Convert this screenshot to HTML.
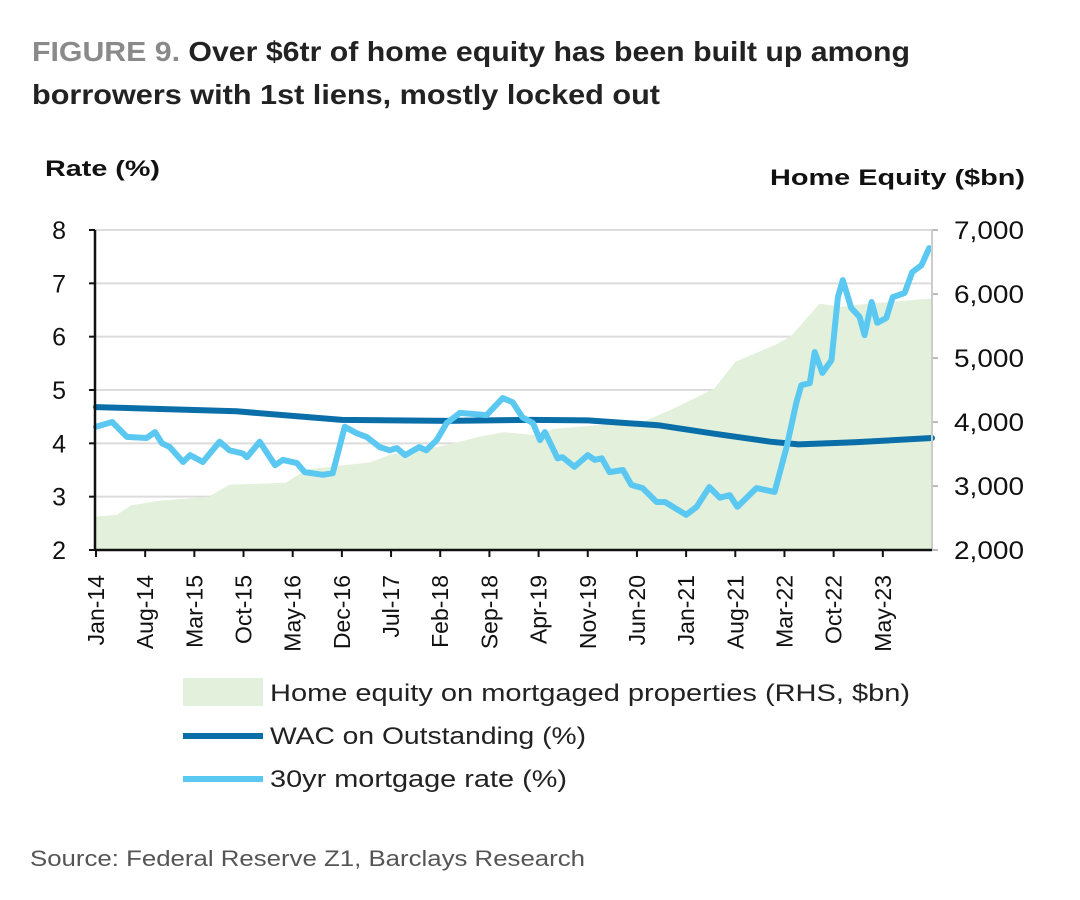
<!DOCTYPE html>
<html><head><meta charset="utf-8">
<style>
body{margin:0;background:#fff;font-family:"Liberation Sans",sans-serif;}
#wrap{position:relative;width:1080px;height:900px;overflow:hidden;}
</style></head>
<body>
<div id="wrap">
<svg id="chart" width="1080" height="900" xmlns="http://www.w3.org/2000/svg">
  <text x="32" y="61" font-size="28" font-weight="bold" fill="#222" textLength="878" lengthAdjust="spacingAndGlyphs"><tspan fill="#8a8a8a">FIGURE 9.</tspan> Over $6tr of home equity has been built up among</text>
  <text x="32" y="104" font-size="28" font-weight="bold" fill="#222" textLength="628" lengthAdjust="spacingAndGlyphs">borrowers with 1st liens, mostly locked out</text>
  <text x="45" y="176" font-size="22" font-weight="bold" fill="#111" textLength="115" lengthAdjust="spacingAndGlyphs">Rate (%)</text>
  <text x="770" y="185" font-size="22" font-weight="bold" fill="#111" textLength="255" lengthAdjust="spacingAndGlyphs">Home Equity ($bn)</text>
  <g id="grid"></g>
  <g id="area"></g>
  <g id="lines"></g>
  <g id="axes"></g>
  <rect x="183" y="678" width="80" height="28" fill="#e3f0dc"/>
  <text x="270" y="701" font-size="24" fill="#222" textLength="640" lengthAdjust="spacingAndGlyphs">Home equity on mortgaged properties (RHS, $bn)</text>
  <line x1="183" y1="736" x2="263" y2="736" stroke="#0a6ea8" stroke-width="6"/>
  <text x="270" y="744" font-size="24" fill="#222" textLength="316" lengthAdjust="spacingAndGlyphs">WAC on Outstanding (%)</text>
  <line x1="183" y1="779" x2="263" y2="779" stroke="#5bc8f2" stroke-width="6"/>
  <text x="270" y="787" font-size="24" fill="#222" textLength="297" lengthAdjust="spacingAndGlyphs">30yr mortgage rate (%)</text>
  <text x="30" y="866" font-size="22" fill="#555" textLength="555" lengthAdjust="spacingAndGlyphs">Source: Federal Reserve Z1, Barclays Research</text>
</svg>
</div>
<script>
const xTickLabels=["Jan-14","Aug-14","Mar-15","Oct-15","May-16","Dec-16","Jul-17","Feb-18","Sep-18","Apr-19","Nov-19","Jun-20","Jan-21","Aug-21","Mar-22","Oct-22","May-23"];
const leftTicks=[2,3,4,5,6,7,8];
const rightTicks=[2000,3000,4000,5000,6000,7000];
const rightTickLabels=["2,000","3,000","4,000","5,000","6,000","7,000"];
const equityMonths=[0,3,5,9,16,19,27,30,39,42,49,55,58,60,63,65,78,82,88,91,97,99,103,106,110,119];
const equityValues=[2520,2550,2700,2770,2830,3020,3050,3260,3370,3490,3620,3780,3840,3820,3790,3890,4010,4200,4520,4940,5220,5350,5850,5800,5850,5930];
const wacMonths=[0,20,35,50,62,70,80,88,96,100,108,119];
const wacValues=[4.68,4.6,4.44,4.42,4.44,4.43,4.34,4.18,4.03,3.98,4.02,4.1];
const rateMonths=[0,2.3,4.4,7.2,8.4,9.4,10.5,12.4,13.4,15.2,17.6,19,20.9,21.5,23.3,25.5,26.6,28.6,29.7,32.3,33.7,35.4,37.1,38.5,40.4,41.8,42.8,44,46,47,48.5,49.9,51.8,55.6,57.9,59.3,60.7,62.2,63.2,63.9,65.7,66.4,68.1,70,71,72,73.1,75,76.2,77.8,79.8,81,84,85.5,87.3,88.8,90.2,91.3,94,96.6,98.3,99.7,100.4,101.6,102.3,103.4,104.7,105.6,106.3,107.5,108.7,109.4,110.4,111.2,112.5,113.4,115.1,116.2,117.5,118.6];
const rateValues=[4.31,4.4,4.12,4.1,4.21,4.0,3.93,3.65,3.78,3.65,4.03,3.87,3.81,3.74,4.03,3.59,3.69,3.63,3.46,3.41,3.44,4.31,4.19,4.12,3.93,3.87,3.91,3.78,3.93,3.87,4.06,4.38,4.57,4.53,4.85,4.77,4.49,4.38,4.06,4.21,3.72,3.74,3.56,3.78,3.69,3.72,3.46,3.5,3.22,3.16,2.9,2.9,2.66,2.81,3.18,2.98,3.03,2.81,3.16,3.09,3.93,4.77,5.09,5.13,5.71,5.32,5.56,6.74,7.06,6.54,6.37,6.03,6.65,6.26,6.35,6.74,6.82,7.21,7.34,7.66];

const X0=95,X1=932,Y0=550,Y1=230,NM=119;
const xs=m=>X0+1+m*(X1-X0-1)/NM;
const yl=v=>Y0-(v-2)*(Y0-Y1)/6;
const yr=v=>Y0-(v-2000)*(Y0-Y1)/5000;
const NS="http://www.w3.org/2000/svg";
function mk(tag,attrs,parent){const e=document.createElementNS(NS,tag);for(const k in attrs)e.setAttribute(k,attrs[k]);parent.appendChild(e);return e;}
const grid=document.getElementById('grid'),area=document.getElementById('area'),lines=document.getElementById('lines'),axes=document.getElementById('axes');

leftTicks.forEach(v=>{
  if(v>2){const g=mk('line',{x1:X0,x2:X1,y1:yl(v),y2:yl(v),stroke:'#dcdcdc','stroke-width':2},grid);
  
  }
  const t=mk('text',{x:66,y:yl(v)+9,'font-size':25,fill:'#111','text-anchor':'end'},axes);t.textContent=v;
  
  
  mk('line',{x1:X0-6,x2:X0,y1:yl(v),y2:yl(v),stroke:'#111','stroke-width':2},axes);
});
rightTicks.forEach((v,i)=>{
  const t=mk('text',{x:954,y:yr(v)+9,'font-size':25,fill:'#111',textLength:70,lengthAdjust:'spacingAndGlyphs'},axes);t.textContent=rightTickLabels[i];
  
  
  mk('line',{x1:X1,x2:X1+6,y1:yr(v),y2:yr(v),stroke:'#bbb','stroke-width':2},axes);
});

let d='M'+xs(equityMonths[0])+','+Y0;
equityMonths.forEach((m,i)=>{d+=' L'+xs(m)+','+yr(equityValues[i]);});
d+=' L'+xs(equityMonths[equityMonths.length-1])+','+Y0+' Z';
const ar=mk('path',{d:d,fill:'#e3f0dc'},area);



function line(ms,vs,col,name){
  const p=ms.map((m,i)=>(i?'L':'M')+xs(m).toFixed(1)+','+yl(vs[i]).toFixed(1)).join(' ');
  const e=mk('path',{d:p,fill:'none',stroke:col,'stroke-width':6,'stroke-linejoin':'round','stroke-linecap':'round'},lines);
  
  
}
line(wacMonths,wacValues,'#0a6ea8','wac-line');
line(rateMonths,rateValues,'#5bc8f2','mortgage-rate-line');

const la=mk('line',{x1:X0,x2:X0,y1:Y1,y2:Y0+1,stroke:'#111','stroke-width':2.5},axes);


const ra=mk('line',{x1:X1,x2:X1,y1:Y1,y2:Y0,stroke:'#ccc','stroke-width':2},axes);


const xa=mk('line',{x1:X0,x2:X1,y1:Y0,y2:Y0,stroke:'#111','stroke-width':2.5},axes);


xTickLabels.forEach((lab,i)=>{
  const x=xs(i*7);
  mk('line',{x1:x,x2:x,y1:Y0,y2:Y0+7,stroke:'#111','stroke-width':2},axes);
  const t=mk('text',{x:0,y:0,'font-size':23,fill:'#111','text-anchor':'end',transform:'translate('+(x+8)+','+(Y0+25)+') rotate(-90)'},axes);
  t.textContent=lab;
  
  
});
</script>
</body></html>
